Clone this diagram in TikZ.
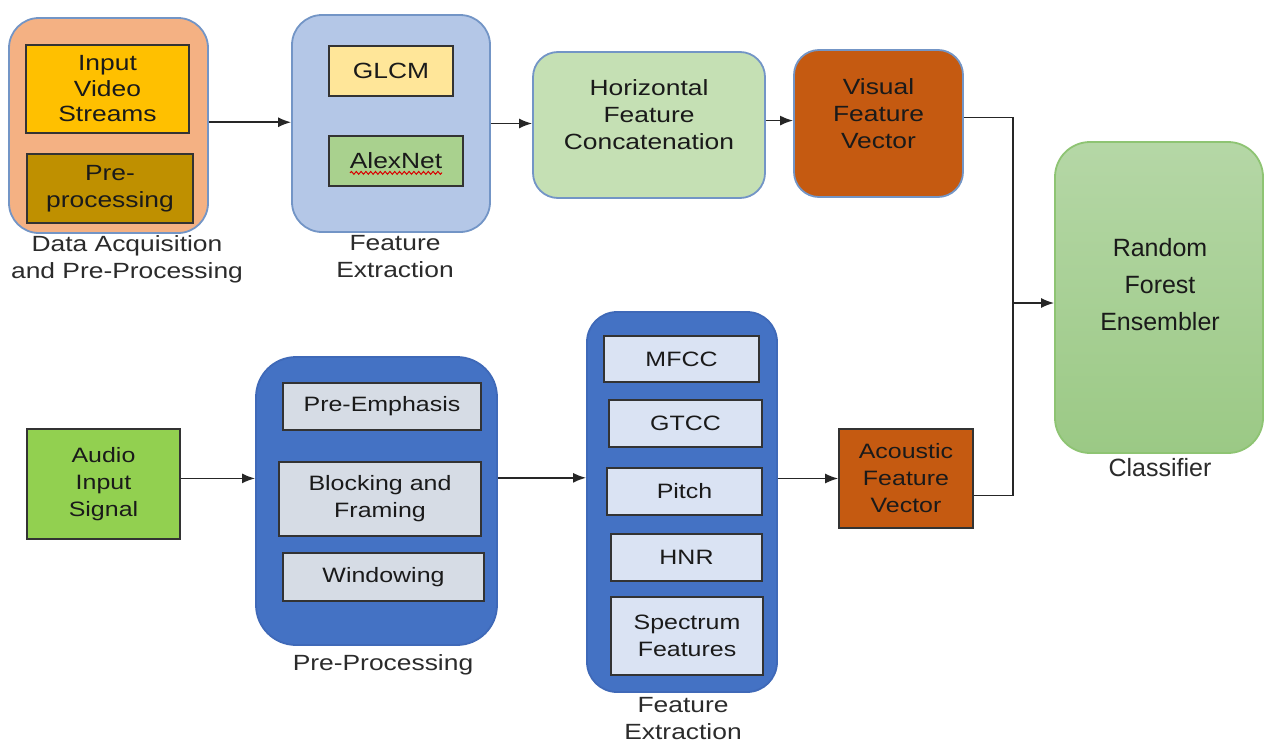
\documentclass[tikz,border=0pt]{standalone}
\usepackage{fontspec}
\setmainfont{Liberation Sans}[FakeStretch=1.2]
\newfontfamily\rffont{Liberation Sans}
\usetikzlibrary{arrows.meta,calc,decorations.pathmorphing}
\definecolor{txt}{HTML}{1A1A1A}
\definecolor{lbltxt}{HTML}{2B2B2B}
\definecolor{bordblue}{HTML}{7395C6}
\definecolor{boxline}{HTML}{333333}
\definecolor{daqfill}{HTML}{F4B183}
\definecolor{ivsfill}{HTML}{FFC000}
\definecolor{prepfill}{HTML}{BF9000}
\definecolor{fefill}{HTML}{B4C7E7}
\definecolor{glcmfill}{HTML}{FFE699}
\definecolor{alexfill}{HTML}{A9D18E}
\definecolor{hfcfill}{HTML}{C5E0B4}
\definecolor{vfvfill}{HTML}{C55A11}
\definecolor{rftop}{HTML}{B5D7A6}
\definecolor{rfbot}{HTML}{9BC985}
\definecolor{rfborder}{HTML}{8EC473}
\definecolor{audiofill}{HTML}{92D050}
\definecolor{ppblue}{HTML}{4472C4}
\definecolor{ppborder}{HTML}{3F69B8}
\definecolor{innerL}{HTML}{D6DCE5}
\definecolor{innerR}{HTML}{DAE3F3}
\tikzset{
  x=0.5pt, y=-0.5pt,
  outer/.style={draw=bordblue, line width=0.9pt, inner sep=0pt},
  inbox/.style={draw=boxline, line width=0.8pt, inner sep=0pt, align=center, text=txt},
  topfont/.style={font=\fontsize{11}{13.5}\selectfont},
  botfont/.style={font=\fontsize{10.4}{13.5}\selectfont},
  lbl/.style={align=center, text=lbltxt, inner sep=0pt, font=\fontsize{11}{13.5}\selectfont},
  txtnode/.style={align=center, text=txt, inner sep=0pt, font=\fontsize{11}{13.5}\selectfont},
  arr/.style={draw=black!85, line width=0.8pt, -{Latex[length=6.5pt,width=5pt]}},
  conn/.style={draw=black!85, line width=0.8pt},
}
\begin{document}
\begin{tikzpicture}
\path[fill=white, use as bounding box] (0,0) rectangle (1264,744);

% ---------- top row ----------
\node[outer, fill=daqfill, minimum width=99.5pt, minimum height=107.5pt, rounded corners=15pt] (daq) at (108.5,125.5) {};
\node[inbox, fill=ivsfill, minimum width=81.5pt, minimum height=44pt, font=\fontsize{11}{12.75}\selectfont] (ivs) at (107.5,89) {Input\\Video\\Streams};
\node[inbox, fill=prepfill, minimum width=83pt, minimum height=34.5pt, topfont] (prep) at (110,188.5) {Pre-\\processing};
\node[lbl] (daqlbl) at (127,259) {Data Acquisition\\and Pre-Processing};

\node[outer, fill=fefill, minimum width=99pt, minimum height=108.5pt, rounded corners=15pt] (fe1) at (391,123.5) {};
\node[inbox, fill=glcmfill, minimum width=62pt, minimum height=25pt, topfont] (glcm) at (391,71) {GLCM};
\node[inbox, fill=alexfill, minimum width=67pt, minimum height=25pt, topfont] (alex) at (396,161) {AlexNet};
\draw[red!85!black, line width=0.5pt, decorate, decoration={snake, amplitude=0.7pt, segment length=2.4pt}]
  ($(alex.base)+(-23pt,-2pt)$) -- ($(alex.base)+(23pt,-2pt)$);
\node[lbl] (fe1lbl) at (395,257) {Feature\\Extraction};

\node[outer, fill=hfcfill, minimum width=116pt, minimum height=73pt, rounded corners=12.5pt] (hfc) at (649,125) {};
\node[txtnode] (hfctxt) at (649,115) {Horizontal\\Feature\\Concatenation};

\node[outer, fill=vfvfill, minimum width=84.5pt, minimum height=73.5pt, rounded corners=12.5pt] (vfv) at (878.5,123.5) {};
\node[txtnode] (vfvtxt) at (878.5,114) {Visual\\Feature\\Vector};

\node[draw=rfborder, line width=0.9pt, inner sep=0pt, top color=rftop, bottom color=rfbot, minimum width=104pt, minimum height=155.5pt, rounded corners=17.5pt] (rf) at (1159,297.5) {};
\node[align=center, text=txt, inner sep=0pt, font=\rffont\fontsize{12.5}{18.5}\selectfont] (rftxt) at (1160,285) {Random\\Forest\\Ensembler};
\node[lbl, font=\rffont\fontsize{12.5}{15}\selectfont] (clslbl) at (1160,468) {Classifier};

% ---------- bottom row ----------
\node[inbox, fill=audiofill, minimum width=76.5pt, minimum height=55pt, botfont] (audio) at (103.5,484) {Audio\\Input\\Signal};

\node[draw=ppborder, line width=0.9pt, fill=ppblue, inner sep=0pt, minimum width=120.5pt, minimum height=144pt, rounded corners=20pt] (pp) at (376.5,501) {};
\node[inbox, fill=innerL, minimum width=99pt, minimum height=23.5pt, botfont] (pe) at (382,406.5) {Pre-Emphasis};
\node[inbox, fill=innerL, minimum width=101pt, minimum height=37pt, botfont] (bf) at (380,499) {Blocking and\\Framing};
\node[inbox, fill=innerL, minimum width=100.5pt, minimum height=24pt, botfont] (win) at (383.5,577) {Windowing};
\node[lbl] (pplbl) at (383,665) {Pre-Processing};

\node[draw=ppborder, line width=0.9pt, fill=ppblue, inner sep=0pt, minimum width=95pt, minimum height=190pt, rounded corners=15pt] (fe2) at (682,502) {};
\node[inbox, fill=innerR, minimum width=77.5pt, minimum height=23pt, botfont] (mfcc) at (681.5,359) {MFCC};
\node[inbox, fill=innerR, minimum width=76.5pt, minimum height=23.5pt, botfont] (gtcc) at (685.5,423.5) {GTCC};
\node[inbox, fill=innerR, minimum width=77.5pt, minimum height=23.5pt, botfont] (pitch) at (684.5,491.5) {Pitch};
\node[inbox, fill=innerR, minimum width=75.5pt, minimum height=23.5pt, botfont] (hnr) at (686.5,557.5) {HNR};
\node[inbox, fill=innerR, minimum width=76pt, minimum height=39pt, botfont] (spec) at (687,636) {Spectrum\\Features};
\node[lbl] (fe2lbl) at (683,719) {Feature\\Extraction};

\node[inbox, fill=vfvfill, minimum width=67pt, minimum height=49.5pt, botfont] (afv) at (906,478.5) {Acoustic\\Feature\\Vector};

% ---------- connectors ----------
\draw[arr] ($(daq.north east)!0.485!(daq.south east)$) coordinate (d1) -- (d1 -| fe1.west);
\draw[arr] ($(fe1.north east)!0.5!(fe1.south east)$) coordinate (f1) -- (f1 -| hfc.west);
\draw[arr] ($(hfc.north east)!0.47!(hfc.south east)$) coordinate (h1) -- (h1 -| vfv.west);

\coordinate (bus) at (1013,303);
\draw[conn] ($(vfv.north east)!0.46!(vfv.south east)$) -| (bus);
\draw[conn] ($(afv.south east)!0.33!(afv.north east)$) -| (bus);
\draw[arr] (bus) -- (bus -| rf.west);

\draw[arr] ($(audio.north east)!0.45!(audio.south east)$) coordinate (a1) -- (a1 -| pp.west);
\draw[arr] ($(pp.north east)!0.42!(pp.south east)$) coordinate (p1) -- (p1 -| fe2.west);
\draw[arr] (afv.west -| fe2.east) -- (afv.west);
\end{tikzpicture}
\end{document}
